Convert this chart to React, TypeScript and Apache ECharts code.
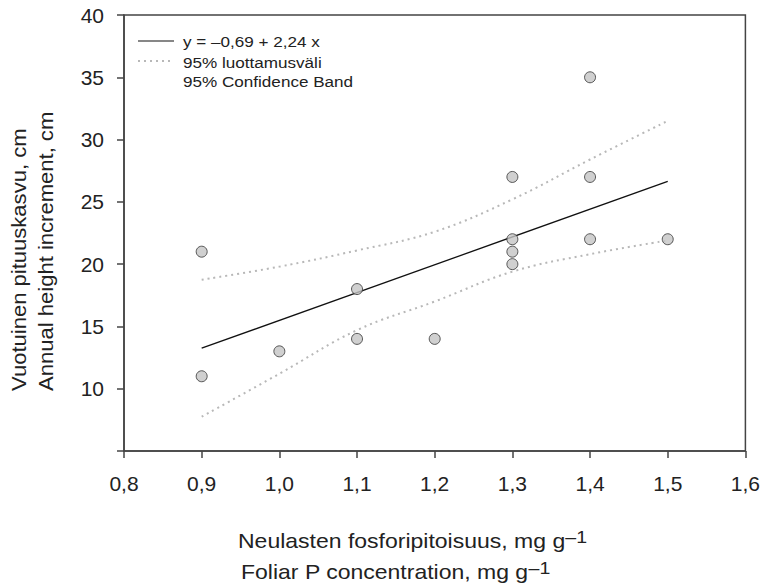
import React, { useEffect, useRef } from "react";
import * as echarts from "echarts";

const pointsX = [0.9, 0.9, 1.0, 1.1, 1.1, 1.2, 1.3, 1.3, 1.3, 1.3, 1.4, 1.4, 1.4, 1.5];
const pointsY = [21, 11, 13, 18, 14, 14, 27, 22, 21, 20, 35, 27, 22, 22];

const fitX = [0.9, 1.5];
const fitY = [13.25, 26.65];

const bandX = [0.9, 1.0, 1.1, 1.2, 1.3, 1.4, 1.5];
const bandUpper = [18.75, 19.8, 21.1, 22.6, 25.2, 28.4, 31.5];
const bandLower = [7.75, 11.2, 14.7, 17.0, 19.4, 20.8, 21.9];

const legendFit = "y = –0,69 + 2,24 x";
const legendBand1 = "95% luottamusväli";
const legendBand2 = "95% Confidence Band";
const yTitle1 = "Vuotuinen pituuskasvu, cm";
const yTitle2 = "Annual height increment, cm";
const xTitle1 = "Neulasten fosforipitoisuus, mg g";
const xTitle2 = "Foliar P concentration, mg g";
const sup = "–1";

const FONT = "Liberation Sans, Arial, Helvetica, sans-serif";
const AXIS = "#444";
const BAND = "#b8b8b8";
const TXT = "#222";

export default function App() {
  const ref = useRef<HTMLDivElement>(null);
  useEffect(() => {
    if (!ref.current) return;
    const chart = echarts.init(ref.current, undefined, { renderer: "svg" });
    const zip = (xs: number[], ys: number[]) => xs.map((x, i) => [x, ys[i]]);
    const supText = (x: number, y: number, main: string) => ({
      type: "text",
      x,
      y,
      scaleX: 1.15,
      style: {
        text: `{a|${main}}{b|${sup}}`,
        textVerticalAlign: "middle",
        rich: {
          a: { fontSize: 20, fontFamily: FONT, fill: TXT },
          b: { fontSize: 17, fontFamily: FONT, fill: TXT, padding: [0, 0, 8, 0] },
        },
      },
    });
    const legendText = (y: number, text: string) => ({
      type: "text",
      x: 183,
      y,
      scaleX: 1.14,
      style: { text, fontSize: 15, fontFamily: FONT, fill: TXT, textVerticalAlign: "middle" },
    });
    const yTitle = (x: number, text: string) => ({
      type: "text",
      x,
      y: 391,
      rotation: Math.PI / 2,
      scaleX: 1.05,
      style: { text, fontSize: 21, fontFamily: FONT, fill: TXT, textAlign: "left", textVerticalAlign: "middle" },
    });
    chart.setOption({
      animation: false,
      backgroundColor: "#fff",
      grid: { left: 124, top: 15, right: 16, bottom: 136, show: true, borderColor: AXIS, borderWidth: 1.5 },
      xAxis: {
        type: "value",
        min: 0.8,
        max: 1.6,
        interval: 0.1,
        splitLine: { show: false },
        axisLine: { lineStyle: { color: AXIS, width: 1.5 } },
        axisTick: { length: 7, lineStyle: { color: AXIS, width: 1.5 } },
        axisLabel: {
          margin: 22,
          fontSize: 21,
          fontFamily: FONT,
          color: TXT,
          formatter: (v: number) => v.toFixed(1).replace(".", ","),
        },
      },
      yAxis: {
        type: "value",
        min: 5,
        max: 40,
        interval: 5,
        splitLine: { show: false },
        axisLine: { lineStyle: { color: AXIS, width: 1.5 } },
        axisTick: { length: 7, lineStyle: { color: AXIS, width: 1.5 } },
        axisLabel: {
          margin: 20,
          fontSize: 21,
          fontFamily: FONT,
          color: TXT,
          formatter: (v: number) => (v === 5 ? "" : String(v)),
        },
      },
      series: [
        {
          type: "line",
          data: zip(bandX, bandUpper),
          smooth: 0.4,
          symbol: "none",
          lineStyle: { color: BAND, width: 2, type: [2, 4] },
          z: 2,
        },
        {
          type: "line",
          data: zip(bandX, bandLower),
          smooth: 0.4,
          symbol: "none",
          lineStyle: { color: BAND, width: 2, type: [2, 4] },
          z: 2,
        },
        {
          type: "line",
          data: zip(fitX, fitY),
          symbol: "none",
          lineStyle: { color: "#111", width: 1.3 },
          z: 3,
        },
        {
          type: "scatter",
          data: zip(pointsX, pointsY),
          symbolSize: 11,
          itemStyle: { color: "#c4c4c4", borderColor: "#333", borderWidth: 1 },
          z: 4,
        },
      ],
      graphic: [
        { type: "line", shape: { x1: 138, y1: 41, x2: 174, y2: 41 }, style: { stroke: "#111", lineWidth: 1.2 } },
        legendText(41, legendFit),
        {
          type: "line", shape: { x1: 138, y1: 61, x2: 174, y2: 61 },
          style: { stroke: BAND, lineWidth: 2, lineDash: [2, 4] },
        },
        legendText(62, legendBand1),
        legendText(81, legendBand2),
        yTitle(19, yTitle1),
        yTitle(46, yTitle2),
        supText(238, 541, xTitle1),
        supText(241, 572, xTitle2),
      ],
    });
    return () => chart.dispose();
  }, []);
  return <div ref={ref} style={{ width: 763, height: 587, position: "absolute", left: 0, top: 0 }} />;
}
